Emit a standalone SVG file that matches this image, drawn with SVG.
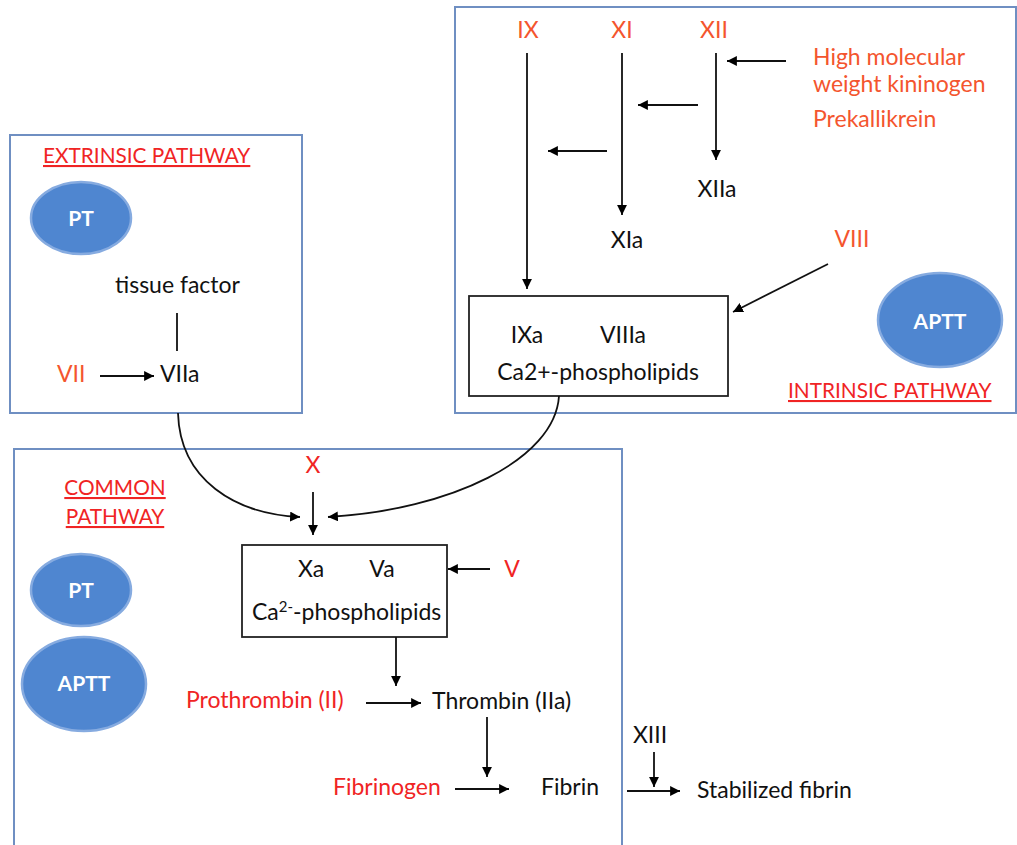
<svg xmlns="http://www.w3.org/2000/svg" width="1017" height="845" viewBox="0 0 1017 845">
<defs>
<marker id="ah" viewBox="0 0 10 10" refX="10" refY="5" markerWidth="5.5" markerHeight="5.5" markerUnits="strokeWidth" orient="auto">
<path d="M0,0 L10,5 L0,10 z" fill="#000"/>
</marker>
<style>
.panel{fill:none;stroke:#6f8fc2;stroke-width:2}
.box{fill:#fff;stroke:#222;stroke-width:1.8}
.t{font-family:Lato,"Open Sans",sans-serif;font-size:23px;fill:#111}
.o{font-family:Lato,"Open Sans",sans-serif;font-size:23px;fill:#f4552e}
.r{font-family:Lato,"Open Sans",sans-serif;font-size:23px;fill:#f02424}
.h{font-family:Lato,"Open Sans",sans-serif;font-size:20.8px;fill:#f02424;text-decoration:underline}
.ell{fill:#4f86d0;stroke:#86abe0;stroke-width:2.5}
.et{font-family:Lato,"Open Sans",sans-serif;font-size:21px;fill:#fff;font-weight:bold}
.c{fill:none;stroke:#111;stroke-width:1.8;marker-end:url(#ah)}
.l{fill:none;stroke:#111;stroke-width:1.8}
</style>
</defs>
<rect width="1017" height="845" fill="#fff"/>

<g id="extrinsic">
<rect class="panel" x="10" y="135" width="292" height="278"/>
<text class="h" x="43" y="163">EXTRINSIC PATHWAY</text>
<ellipse class="ell" cx="81" cy="218" rx="50" ry="36"/>
<text class="et" x="81" y="226" text-anchor="middle">PT</text>
<text class="t" x="115" y="293">tissue factor</text>
<text class="o" x="57" y="382">VII</text>
<text class="t" x="160" y="382">VIIa</text>
</g>

<g id="intrinsic">
<rect class="panel" x="455" y="7" width="561" height="406"/>
<text class="o" x="528" y="38" text-anchor="middle">IX</text>
<text class="o" x="622" y="38" text-anchor="middle">XI</text>
<text class="o" x="714" y="38" text-anchor="middle">XII</text>
<text class="o" x="813" y="65">High molecular</text>
<text class="o" x="813" y="92">weight kininogen</text>
<text class="o" x="813" y="127">Prekallikrein</text>
<text class="t" x="717" y="197" text-anchor="middle">XIIa</text>
<text class="t" x="627" y="248" text-anchor="middle">XIa</text>
<text class="o" x="852" y="247" text-anchor="middle">VIII</text>
<ellipse class="ell" cx="940" cy="320" rx="62" ry="47"/>
<text class="et" x="940" y="329" text-anchor="middle">APTT</text>
<text class="h" x="788" y="398">INTRINSIC PATHWAY</text>
</g>

<g id="complex1">
<rect class="box" x="469" y="296" width="259" height="100"/>
<text class="t" x="527" y="343" text-anchor="middle">IXa</text>
<text class="t" x="623" y="343" text-anchor="middle">VIIIa</text>
<text class="t" x="598" y="380" text-anchor="middle">Ca2+-phospholipids</text>
</g>

<g id="common">
<rect class="panel" x="14" y="449" width="608" height="405"/>
<text class="h" x="115" y="495" text-anchor="middle">COMMON</text>
<text class="h" x="115" y="524" text-anchor="middle">PATHWAY</text>
<ellipse class="ell" cx="81" cy="590" rx="50" ry="36"/>
<text class="et" x="81" y="598" text-anchor="middle">PT</text>
<ellipse class="ell" cx="84" cy="684" rx="62" ry="47"/>
<text class="et" x="84" y="691" text-anchor="middle">APTT</text>
<text class="r" x="313" y="473" text-anchor="middle">X</text>
<text class="r" x="512" y="577" text-anchor="middle">V</text>
<text class="r" x="186" y="708">Prothrombin (II)</text>
<text class="t" x="432" y="709">Thrombin (IIa)</text>
<text class="r" x="333" y="795">Fibrinogen</text>
<text class="t" x="541" y="795">Fibrin</text>
</g>

<g id="complex2">
<rect class="box" x="242" y="545" width="205" height="92"/>
<text class="t" x="311" y="577" text-anchor="middle">Xa</text>
<text class="t" x="382" y="577" text-anchor="middle">Va</text>
<text class="t" x="252" y="620">Ca<tspan font-size="15" dy="-8">2-</tspan><tspan dy="8">-phospholipids</tspan></text>
</g>

<g id="final">
<text class="t" x="650" y="743" text-anchor="middle">XIII</text>
<text class="t" x="697" y="798">Stabilized fibrin</text>
</g>

<g id="connectors">
<line class="l" x1="177" y1="313" x2="177" y2="351"/>
<line class="c" x1="100" y1="376" x2="154" y2="376"/>
<line class="c" x1="527" y1="53" x2="527" y2="289"/>
<line class="c" x1="622" y1="53" x2="622" y2="215"/>
<line class="c" x1="716" y1="53" x2="716" y2="160"/>
<line class="c" x1="786" y1="61" x2="727" y2="61"/>
<line class="c" x1="698" y1="105" x2="638" y2="105"/>
<line class="c" x1="607" y1="151" x2="548" y2="151"/>
<line class="c" x1="828" y1="264" x2="733" y2="312"/>
<path class="c" d="M178,413 C180,480 235,514 300,517"/>
<path class="c" d="M559,396 C555,460 450,510 328,517"/>
<line class="c" x1="313" y1="492" x2="313" y2="535"/>
<line class="c" x1="490" y1="569" x2="448" y2="569"/>
<line class="c" x1="396" y1="637" x2="396" y2="686"/>
<line class="c" x1="366" y1="703" x2="421" y2="703"/>
<line class="c" x1="487" y1="717" x2="487" y2="777"/>
<line class="c" x1="455" y1="789" x2="509" y2="789"/>
<line class="c" x1="654" y1="752" x2="654" y2="787"/>
<line class="c" x1="627" y1="791" x2="680" y2="791"/>
</g>
</svg>
